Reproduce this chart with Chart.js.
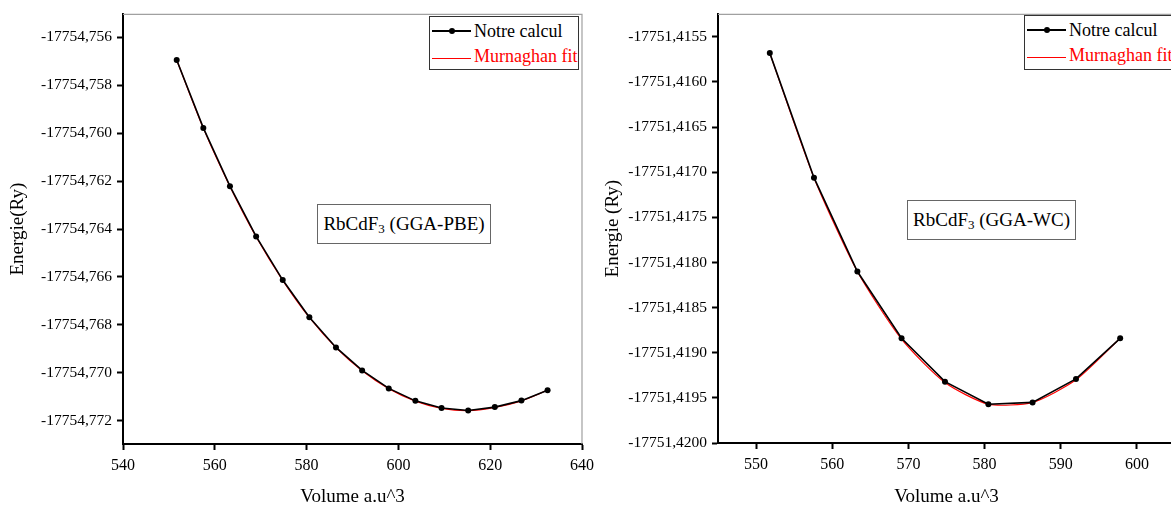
<!DOCTYPE html>
<html>
<head>
<meta charset="utf-8">
<script src="https://cdn.jsdelivr.net/npm/chart.js@4/dist/chart.umd.min.js"></script>
<style>
  html, body { margin: 0; padding: 0; background: #fff; overflow: hidden; width: 1171px; height: 512px; }
  #wrap { position: relative; width: 1171px; height: 512px; overflow: hidden; font-family: "Liberation Serif", "Times New Roman", serif; }
  canvas { position: absolute; top: 0; }
  #c1 { left: 0; }
  #c2 { left: 600px; }
  .legend { position: absolute; border: 1px solid #333; background: #fff; font-size: 18px; line-height: 25px; }
  .legend .row { position: relative; height: 25px; white-space: nowrap; padding-left: 44px; }
  .legend .ln { position: absolute; left: 2px; width: 39px; top: 12px; }
  .legend .blk { height: 2px; background: #000; top: 13px; }
  .legend .dot { position: absolute; left: 17px; top: -2px; width: 6px; height: 6px; border-radius: 50%; background: #000; }
  .legend .red { height: 1px; background: #ff0000; top: 14px; }
  .legend .first { padding-top: 2px; }
  .anno { position: absolute; border: 1px solid #666; background: #fff; font-size: 19px; line-height: 37px; text-align: center; white-space: nowrap; color: #000; }
  .anno sub { font-size: 13px; vertical-align: -3px; line-height: 0; }
</style>
</head>
<body>
<div id="wrap">
  <canvas id="c1" width="600" height="512"></canvas>
  <canvas id="c2" width="600" height="512"></canvas>

  <div class="legend" style="left:429px; top:16px; width:148px; height:52px;">
    <div class="row first"><div class="ln blk"><div class="dot"></div></div><span style="color:#000">Notre calcul</span></div>
    <div class="row"><div class="ln red"></div><span style="color:#ff0000">Murnaghan fit</span></div>
  </div>
  <div class="legend" style="left:1024px; top:15px; width:150px; height:53px;">
    <div class="row first"><div class="ln blk"><div class="dot"></div></div><span style="color:#000">Notre calcul</span></div>
    <div class="row"><div class="ln red"></div><span style="color:#ff0000">Murnaghan fit</span></div>
  </div>

  <div class="anno" style="left:317px; top:204px; width:172px; height:38px;">RbCdF<sub>3</sub> (GGA-PBE)</div>
  <div class="anno" style="left:907px; top:200px; width:167px; height:38px;">RbCdF<sub>3</sub> (GGA-WC)</div>
</div>

<script>
// ---------- DATA ----------
const leftVolume = [551.7, 557.5, 563.3, 569.0, 574.8, 580.6, 586.4, 592.1, 597.9, 603.7, 609.4, 615.2, 621.0, 626.8, 632.5];
const leftEnergy = [-17754.75695, -17754.75978, -17754.76221, -17754.76431, -17754.76613, -17754.76768, -17754.76894, -17754.76990, -17754.77065, -17754.77117, -17754.77147, -17754.77157, -17754.77143, -17754.77116, -17754.77073];
const leftFit    = [-17754.75695, -17754.75979, -17754.76222, -17754.76432, -17754.76614, -17754.76769, -17754.76895, -17754.76991, -17754.77066, -17754.77118, -17754.77148, -17754.77158, -17754.77144, -17754.77117, -17754.77073];
const leftXTicks = [540, 560, 580, 600, 620, 640];
const leftYTicks = [-17754.756, -17754.758, -17754.760, -17754.762, -17754.764, -17754.766, -17754.768, -17754.770, -17754.772];

const rightVolume = [551.8, 557.6, 563.3, 569.1, 574.8, 580.5, 586.3, 592.0, 597.8];
const rightEnergy = [-17751.41568, -17751.41706, -17751.41810, -17751.41884, -17751.41932, -17751.41957, -17751.41955, -17751.41929, -17751.41884];
const rightFit    = [-17751.41568, -17751.41706, -17751.41810, -17751.41885, -17751.41933, -17751.41957, -17751.41955, -17751.41930, -17751.41884];
const rightXTicks = [550, 560, 570, 580, 590, 600];
const rightYTicks = [-17751.4155, -17751.4160, -17751.4165, -17751.4170, -17751.4175, -17751.4180, -17751.4185, -17751.4190, -17751.4195, -17751.4200];

const seriesNames = ['Notre calcul', 'Murnaghan fit'];
const xTitle = 'Volume a.u^3';

// ---------- CHART ----------
const FONT = "'Liberation Serif', 'Times New Roman', serif";

const framePlugin = {
  id: 'frame',
  afterDatasetsDraw(chart) {
    const a = chart.chartArea, ctx = chart.ctx;
    ctx.save();
    ctx.strokeStyle = '#a0a0a0';
    ctx.lineWidth = 1.2;
    ctx.beginPath();
    ctx.moveTo(a.left, a.top);
    ctx.lineTo(a.right, a.top);
    ctx.lineTo(a.right, a.bottom);
    ctx.stroke();
    ctx.restore();
  }
};

function makeChart(id, vol, en, fit, xTicks, yTicks, xMin, xMax, yMin, yMax, decimals, yTitle, opts) {
  const pts = vol.map((v, i) => ({ x: v, y: en[i] }));
  const fpts = vol.map((v, i) => ({ x: v, y: fit[i] }));
  return new Chart(document.getElementById(id), {
    type: 'line',
    data: {
      datasets: [
        { label: seriesNames[0], data: pts, borderColor: '#000', backgroundColor: '#000',
          borderWidth: 1.6, pointRadius: 3, pointHoverRadius: 3, pointBackgroundColor: '#000',
          pointBorderWidth: 0, tension: 0, order: 1 },
        { label: seriesNames[1], data: fpts, borderColor: '#ff0000', backgroundColor: '#ff0000',
          borderWidth: 1.2, pointRadius: 0, tension: opts.fitTension, order: 2 }
      ]
    },
    options: {
      responsive: false,
      animation: false,
      devicePixelRatio: 1,
      layout: { padding: opts.padding },
      plugins: { legend: { display: false }, tooltip: { enabled: false } },
      scales: {
        x: {
          type: 'linear', min: xMin, max: xMax,
          afterBuildTicks: s => { s.ticks = xTicks.map(v => ({ value: v })); },
          afterFit: s => { s.height = opts.xHeight; },
          ticks: { color: '#000', font: { family: FONT, size: 16 }, padding: 6, maxRotation: 0,
                   callback: v => String(v) },
          grid: { display: true, drawOnChartArea: false, drawTicks: true, tickLength: 6, tickWidth: 2, tickColor: '#000' },
          border: { display: true, color: '#000', width: 2 },
          title: { display: true, text: xTitle, color: '#000', font: { family: FONT, size: 19 }, padding: { top: 0, bottom: 4 } }
        },
        y: {
          type: 'linear', min: yMin, max: yMax,
          afterBuildTicks: s => { s.ticks = yTicks.map(v => ({ value: v })); },
          afterFit: s => { s.width = opts.yWidth; },
          ticks: { color: '#000', font: { family: FONT, size: 15.5 }, padding: 5,
                   callback: v => v.toFixed(decimals).replace('.', ',') },
          grid: { display: true, drawOnChartArea: false, drawTicks: true, tickLength: 6, tickWidth: 2, tickColor: '#000' },
          border: { display: true, color: '#000', width: 2 },
          title: { display: true, text: yTitle, color: '#000', font: { family: FONT, size: 19 }, padding: { top: opts.yTitlePad, bottom: 0 } }
        }
      }
    },
    plugins: [framePlugin]
  });
}

makeChart('c1', leftVolume, leftEnergy, leftFit, leftXTicks, leftYTicks, 540, 640,
  -17754.77297, -17754.75504, 3, 'Energie(Ry)',
  { padding: { top: 11, right: 18, bottom: 0, left: 0 }, xHeight: 68, yWidth: 123, yTitlePad: 7, fitTension: 0.3 });

makeChart('c2', rightVolume, rightEnergy, rightFit, rightXTicks, rightYTicks, 545, 605,
  -17751.4200, -17751.41525, 4, 'Energie (Ry)',
  { padding: { top: 11, right: 25, bottom: 0, left: 0 }, xHeight: 69, yWidth: 118, yTitlePad: 2, fitTension: 0.22 });
</script>
</body>
</html>
